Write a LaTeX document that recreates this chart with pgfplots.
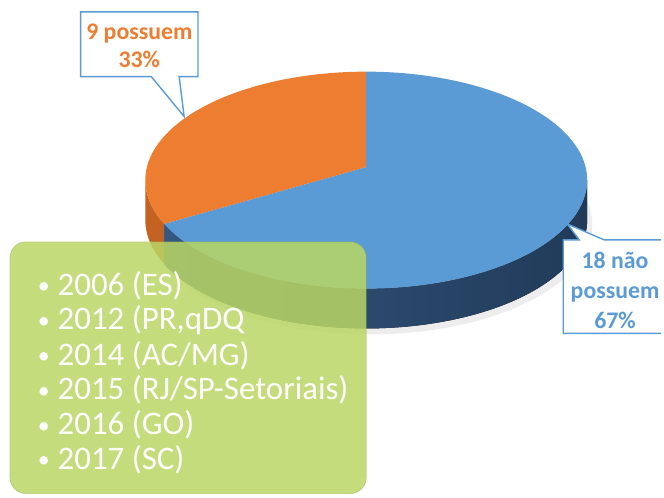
\documentclass[border=0pt]{standalone}
\usepackage{pgfplots}
\pgfplotsset{compat=1.18}
\usepackage{fontspec}
\setmainfont{Carlito}
\definecolor{pblue}{RGB}{91,155,213}
\definecolor{porange}{RGB}{237,125,49}
\definecolor{sideL}{RGB}{52,88,130}
\definecolor{sideR}{RGB}{33,58,88}
\definecolor{oside}{RGB}{196,98,36}
\definecolor{boxgreen}{RGB}{186,214,100}
\newcommand\bul{\makebox[0.5cm][l]{\raisebox{0.05em}{\fontsize{17}{17}\selectfont•}}}

\begin{document}
\begin{tikzpicture}
% values: possuem / nao possuem
\def\nPos{9}
\def\nNao{18}
% slice boundary (perspective view of the pie)
\pgfmathsetmacro\th{90+360*\nPos/(\nPos+\nNao)}
\pgfmathsetmacro\w{1+0.1193*sin(\th)}
\pgfmathsetmacro\X{220.4*cos(\th)/\w}
\pgfmathsetmacro\Y{107.45*sin(\th)/\w}
\pgfmathsetmacro\ph{atan2((\Y+13)/109,\X/222)}
\pgfmathsetmacro\ph{\ph<0 ? \ph+360 : \ph}
\pgfmathsetmacro\bx{368+222*cos(\ph)}
\pgfmathsetmacro\by{319+109*sin(\ph)}
\begin{axis}[
    scale only axis,
    width=16.6cm, height=12.5cm,
    xmin=0, xmax=664, ymin=0, ymax=500,
    hide axis, clip=false,
]
\path (axis cs:0,0) rectangle (axis cs:664,500);
% shadow
\fill[black!7] (axis cs:372,274) ellipse [x radius=5.58cm, y radius=2.75cm];
% sides
\fill[left color=sideL, right color=sideR]
    (axis cs:368,279) ++(\ph:5.55cm and 2.725cm)
    arc[start angle=\ph, end angle=360, x radius=5.55cm, y radius=2.725cm]
    -- ++(0,1cm)
    arc[start angle=360, end angle=\ph, x radius=5.55cm, y radius=2.725cm] -- cycle;
\fill[oside]
    (axis cs:368,279) ++(180:5.55cm and 2.725cm)
    arc[start angle=180, end angle=\ph, x radius=5.55cm, y radius=2.725cm]
    -- ++(0,1cm)
    arc[start angle=\ph, end angle=180, x radius=5.55cm, y radius=2.725cm] -- cycle;
% top faces
\fill[porange] (axis cs:368,332) -- (axis cs:368,428)
    arc[start angle=90, end angle=\ph, x radius=5.55cm, y radius=2.725cm] -- cycle;
\fill[pblue] (axis cs:368,332) -- (axis cs:\bx,\by)
    arc[start angle=\ph, end angle=450, x radius=5.55cm, y radius=2.725cm] -- cycle;
% callouts
\filldraw[fill=white, draw=pblue, line width=1pt]
    (axis cs:81,488) -- (axis cs:199,488) -- (axis cs:199,423) -- (axis cs:180,423)
    -- (axis cs:185,383) -- (axis cs:152,423) -- (axis cs:81,423) -- cycle;
\node[text=porange, font=\bfseries\fontsize{17}{20}\selectfont, align=center]
    at (axis cs:140,454) {9 possuem\\33\%};
\fill[white] (axis cs:664,259) -- (axis cs:607,259) -- (axis cs:570,275) -- (axis cs:582,259)
    -- (axis cs:566,259) -- (axis cs:566,165) -- (axis cs:664,165) -- cycle;
\draw[pblue, line width=1pt] (axis cs:664,259) -- (axis cs:607,259) -- (axis cs:570,275)
    -- (axis cs:582,259) -- (axis cs:566,259) -- (axis cs:566,165) -- (axis cs:664,165);
\node[text=pblue, font=\bfseries\fontsize{17}{21.3}\selectfont, align=center]
    at (axis cs:618,208) {18 não\\possuem\\67\%};
% green box
\filldraw[fill=boxgreen, fill opacity=0.85, draw=boxgreen!80!black, draw opacity=0.5,
    rounded corners=0.4cm] (axis cs:10,257) rectangle (axis cs:368,4);
\begin{scope}[every node/.style={anchor=west, text=white, font=\fontsize{23.5}{28}\selectfont}]
\node at (axis cs:33,213) {\bul 2006 (ES)};
\node at (axis cs:33,178) {\bul 2012 (PR,qDQ};
\node at (axis cs:33,143) {\bul 2014 (AC/MG)};
\node at (axis cs:33,108) {\bul 2015 (RJ/SP-Setoriais)};
\node at (axis cs:33,73) {\bul 2016 (GO)};
\node at (axis cs:33,38) {\bul 2017 (SC)};
\end{scope}
\end{axis}
\end{tikzpicture}
\end{document}
